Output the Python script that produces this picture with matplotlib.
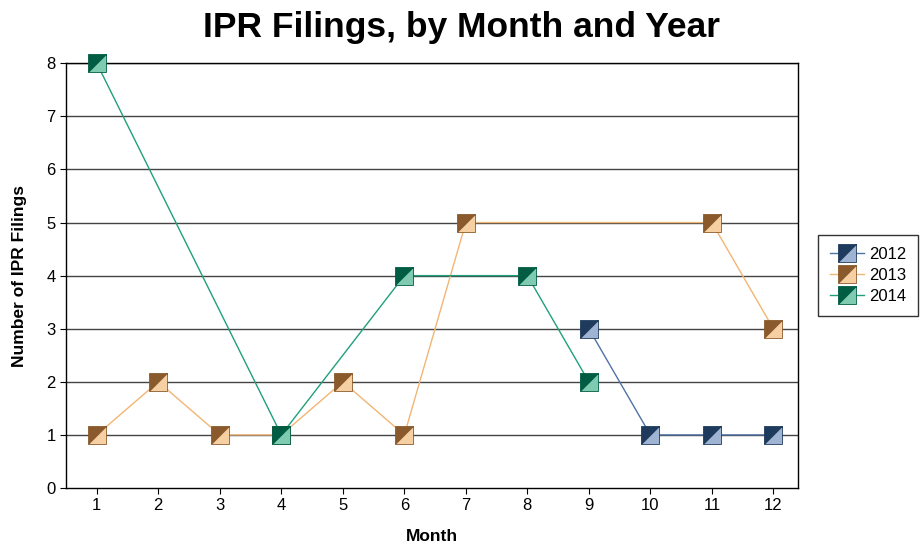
import matplotlib.pyplot as plt
from matplotlib.markers import MarkerStyle
from matplotlib.transforms import Affine2D

plt.rcParams['font.family'] = ['Liberation Sans', 'DejaVu Sans']

months_2012 = [9, 10, 11, 12]
vals_2012 = [3, 1, 1, 1]
months_2013 = [1, 2, 3, 4, 5, 6, 7, 11, 12]
vals_2013 = [1, 2, 1, 1, 2, 1, 5, 5, 3]
months_2014 = [1, 4, 6, 8, 9]
vals_2014 = [8, 1, 4, 4, 2]

series = [
    ('2012', months_2012, vals_2012, '#4f72a8', '#1e3a5c', '#9fb4d2'),
    ('2013', months_2013, vals_2013, '#f2b574', '#8a5a2c', '#f6d0a2'),
    ('2014', months_2014, vals_2014, '#1fa07c', '#005c42', '#7fcbb1'),
]

# square split along the diagonal: rotated diamond with top/bottom fill
sq = MarkerStyle('D', fillstyle='top', transform=Affine2D().rotate_deg(45))

fig, ax = plt.subplots(figsize=(9.22, 5.5), dpi=100)
fig.subplots_adjust(left=0.0716, right=0.8655, top=0.885, bottom=0.1127)

for name, x, y, lc, dark, light in series:
    ax.plot(x, y, color=lc, lw=1, marker=sq, markersize=12.5,
            markerfacecolor=dark, markerfacecoloralt=light,
            markeredgecolor=dark, markeredgewidth=0.6, label=name,
            zorder=3, clip_on=False)

ax.set_xlim(0.5, 12.4)
ax.set_ylim(0, 8)
ax.set_xticks(range(1, 13))
ax.set_yticks(range(0, 9))
ax.tick_params(labelsize=12, length=4, color='black')
for yv in range(1, 9):
    ax.axhline(yv, color='#444444', lw=1, zorder=1)
for s in ax.spines.values():
    s.set_color('black')
    s.set_linewidth(1)

ax.set_xlabel('Month', fontsize=12.5, fontweight='bold', labelpad=11)
ax.set_ylabel('Number of IPR Filings', fontsize=12.5, fontweight='bold', labelpad=14)
fig.suptitle('IPR Filings, by Month and Year', fontsize=25.5, fontweight='bold',
             x=0.5, y=0.98)

leg = ax.legend(loc='center left', bbox_to_anchor=(1.018, 0.5), fontsize=12,
                frameon=True, fancybox=False, edgecolor='black',
                handlelength=2.0, handletextpad=0.3, borderpad=0.75,
                borderaxespad=0.4, labelspacing=0.35)
leg.get_frame().set_linewidth(1)

plt.savefig('out.png')
